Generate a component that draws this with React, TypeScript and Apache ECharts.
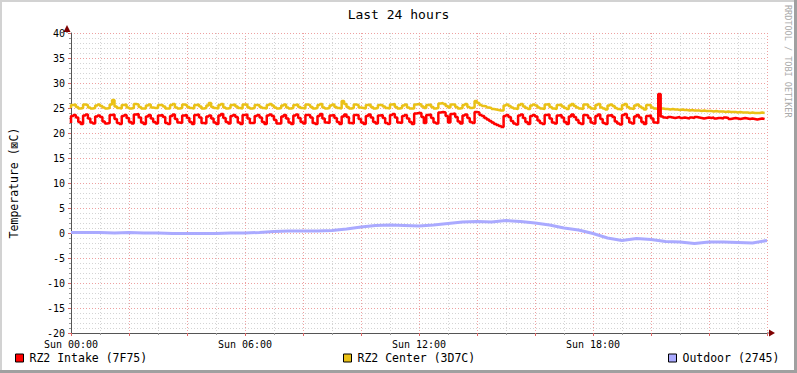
import React, { useEffect, useRef } from "react";
import * as echarts from "echarts";

const STEP_MIN = 5;
const OUTDOOR_STEP_MIN = 30;
const TITLE = "Last 24 hours";
const Y_NAME = "Temperature (\u22A0C)";
const WATERMARK = "RRDTOOL / TOBI OETIKER";
const xTickLabels: Record<number, string> = {
  0: "Sun 00:00",
  360: "Sun 06:00",
  720: "Sun 12:00",
  1080: "Sun 18:00",
};
const seriesNames = ["RZ2 Intake (7F75)", "RZ2 Center (3D7C)", "Outdoor (2745)"];

const intake = [
  22.0, 23.4, 23.6, 23.1, 22.2,
  21.8, 23.5, 23.7, 22.9, 22.1,
  21.9, 23.3, 23.5, 23.2, 22.3, 21.9,
  22.0, 23.6, 23.7, 22.8, 22.0,
  21.8, 23.4, 23.6, 23.0, 22.2,
  21.9, 23.7, 23.8, 23.1, 22.1,
  21.8, 23.3, 23.6, 22.9, 22.2,
  21.9, 23.5, 23.6, 23.2, 22.0,
  21.8, 23.4, 23.7, 22.8, 22.1,
  22.0, 23.5, 23.6, 23.0, 22.2,
  21.8, 23.6, 23.7, 23.1, 22.0,
  21.9, 23.3, 23.5, 22.9, 22.1,
  21.8, 23.5, 23.8, 23.0, 22.2,
  21.9, 23.4, 23.6, 23.2, 22.1,
  21.8, 23.6, 23.7, 22.9, 22.0,
  22.0, 23.4, 23.6, 23.1, 22.2,
  21.8, 23.5, 23.7, 23.4, 22.6, 21.9,
  21.9, 23.3, 23.6, 22.9, 22.1,
  21.8, 23.5, 23.7, 23.0, 22.2,
  21.9, 23.6, 23.6, 23.1, 22.0,
  21.8, 23.4, 23.8, 22.9, 22.1,
  22.0, 23.5, 23.6, 23.0, 22.2,
  21.8, 23.3, 23.7, 23.2, 22.0,
  21.9, 23.6, 23.6, 22.8, 22.1,
  21.8, 23.4, 23.7, 23.1, 22.2,
  21.9, 23.5, 23.6, 23.0, 22.0,
  21.8, 23.6, 23.8, 23.1, 22.1,
  22.0, 23.4, 23.6, 22.9, 22.2,
  21.8, 23.9, 24.0, 24.0, 23.2,
  22.0, 23.6, 23.7, 23.0, 22.1,
  21.9, 24.1, 24.2, 24.1, 23.4,
  22.1, 23.8, 23.9, 23.2, 22.3,
  21.9, 23.5, 23.7, 23.0, 22.2,
  22.0, 24.2, 24.1, 23.6, 23.4,
  23.0, 22.7, 22.4, 22.1, 21.8, 21.6, 21.4, 21.2,
  23.4, 23.6, 23.2, 22.4, 21.9, 21.7,
  23.5, 23.7, 23.0, 22.2, 21.8,
  23.4, 23.6, 23.3, 22.5, 22.0, 21.8,
  23.6, 23.7, 22.9, 22.1, 21.9,
  23.5, 23.6, 23.1, 22.2, 21.8,
  23.3, 23.7, 23.2, 22.6, 22.0, 21.8,
  23.6, 23.5, 23.0, 22.1, 21.9,
  23.4, 23.7, 22.8, 22.0, 21.8,
  23.5, 23.6, 23.2, 22.3, 21.9, 21.7,
  23.6, 23.8, 23.0, 22.1, 21.9,
  23.3, 23.6, 23.1, 22.2, 21.8,
  23.4, 23.5, 22.9, 22.1, 22.0,
  27.8,
  23.3, 23.1, 23.0, 23.2, 23.1, 23.0, 23.1, 23.2, 23.0, 23.1,
  23.0, 22.9, 23.1, 23.0, 23.2, 23.1, 23.0, 22.9, 23.0, 23.1,
  23.0, 23.1, 22.9, 23.0, 23.0, 22.9, 23.1, 23.0, 22.8, 22.9,
  23.0, 22.9, 22.8, 22.9, 23.0, 22.9, 22.8, 22.9, 22.8, 22.7,
  22.8, 22.9, 22.8,
];

const center = [
  25.0, 25.6, 25.7, 25.2, 24.9,
  25.0, 25.7, 25.6, 25.1, 24.9,
  25.0, 25.5, 25.7, 25.4, 25.1, 24.9,
  25.0, 25.7, 26.6, 25.3, 25.0,
  24.9, 25.6, 25.7, 25.1, 24.9,
  25.0, 25.8, 25.7, 25.2, 24.9,
  24.9, 25.5, 25.7, 25.1, 25.0,
  25.0, 25.6, 25.6, 25.3, 24.9,
  24.9, 25.6, 25.8, 25.1, 24.9,
  25.0, 25.7, 25.6, 25.2, 25.0,
  24.9, 25.6, 25.7, 25.3, 24.9,
  25.0, 25.5, 26.0, 25.2, 25.0,
  24.9, 25.6, 25.8, 25.1, 24.9,
  25.0, 25.6, 25.7, 25.3, 25.0,
  24.9, 25.7, 25.7, 25.1, 24.9,
  25.0, 25.6, 25.6, 25.2, 25.0,
  24.9, 25.6, 25.8, 25.5, 25.1, 24.9,
  25.0, 25.5, 25.7, 25.1, 24.9,
  25.0, 25.6, 25.7, 25.2, 25.0,
  24.9, 25.7, 25.6, 25.2, 24.9,
  25.0, 25.6, 25.8, 25.1, 24.9,
  25.0, 25.5, 25.7, 25.2, 25.0,
  24.9, 26.4, 25.8, 25.2, 24.9,
  25.0, 25.7, 25.6, 25.1, 25.0,
  24.9, 25.6, 25.7, 25.2, 24.9,
  25.0, 25.6, 25.6, 25.3, 25.0,
  24.9, 25.7, 25.8, 25.2, 24.9,
  25.0, 25.5, 25.7, 25.1, 24.9,
  24.9, 25.7, 25.8, 25.7, 25.3,
  25.0, 25.6, 25.7, 25.2, 24.9,
  25.0, 25.9, 26.0, 25.8, 25.4,
  25.1, 25.7, 25.7, 25.2, 24.9,
  25.0, 25.6, 25.8, 25.2, 25.0,
  25.1, 26.4, 26.0, 25.6, 25.4,
  25.3, 25.1, 25.0, 24.8, 24.7, 24.6, 24.5, 24.5,
  25.5, 25.7, 25.4, 25.1, 24.9, 24.8,
  25.6, 25.8, 25.3, 25.0, 24.8,
  25.5, 25.7, 25.5, 25.1, 24.9, 24.8,
  25.7, 25.8, 25.2, 24.9, 24.8,
  25.6, 25.7, 25.3, 25.0, 24.8,
  25.5, 25.8, 25.4, 25.1, 24.9, 24.8,
  25.7, 25.7, 25.2, 24.9, 24.8,
  25.6, 25.8, 25.1, 24.9, 24.7,
  25.5, 25.7, 25.4, 25.0, 24.8, 24.7,
  25.6, 25.8, 25.2, 24.9, 24.8,
  25.5, 25.7, 25.3, 25.0, 24.7,
  25.6, 25.6, 25.1, 24.9, 24.8,
  24.9,
  24.9, 24.8, 24.8, 24.7, 24.8, 24.7, 24.7, 24.6, 24.7, 24.6,
  24.6, 24.5, 24.6, 24.5, 24.5, 24.5, 24.4, 24.5, 24.4, 24.4,
  24.4, 24.3, 24.4, 24.3, 24.3, 24.3, 24.2, 24.3, 24.2, 24.2,
  24.2, 24.1, 24.2, 24.1, 24.1, 24.1, 24.0, 24.1, 24.0, 24.0,
  24.0, 24.1, 24.0,
];

const outdoor = [
  0.1, 0.1, 0.1, 0.0, 0.1, 0.0, 0.0, -0.1, -0.1, -0.1,
  -0.1, 0.0, 0.0, 0.1, 0.3, 0.4, 0.4, 0.4, 0.5, 0.8,
  1.2, 1.5, 1.6, 1.5, 1.4, 1.6, 1.9, 2.2, 2.3, 2.2,
  2.5, 2.3, 2.0, 1.6, 1.0, 0.6, -0.1, -1.0, -1.5, -1.1,
  -1.3, -1.7, -1.8, -2.1, -1.8, -1.8, -1.9, -2.0, -1.5,
];

const colors = ["#FF0000", "#EAC117", "#AAAAFF"];
const FONT = "DejaVu Sans Mono";

export default function App() {
  const ref = useRef<HTMLDivElement>(null);
  useEffect(() => {
    const chart = echarts.init(ref.current!, undefined, { renderer: "svg" });
    const intakeData = intake.map((v, i) => [i * STEP_MIN, v]);
    const centerData = center.map((v, i) => [i * STEP_MIN, v]);
    const outdoorData = outdoor.map((v, i) => [i * OUTDOOR_STEP_MIN, v]);
    const legendBase = {
      orient: "horizontal",
      top: 352,
      padding: 0,
      icon: "rect",
      itemWidth: 8,
      itemHeight: 8,
      selectedMode: false,
      itemStyle: { borderColor: "#000", borderWidth: 1 },
      textStyle: { fontFamily: FONT, fontSize: 11.5, color: "#000", padding: [0, 0, 0, 1] },
    };
    chart.setOption({
      animation: false,
      backgroundColor: "#fff",
      title: {
        text: TITLE,
        left: "center",
        top: 3,
        textStyle: { fontFamily: FONT, fontSize: 13, fontWeight: "normal", color: "#000" },
      },
      legend: [
        { ...legendBase, left: 15, data: [seriesNames[0]] },
        { ...legendBase, left: 343, data: [seriesNames[1]] },
        { ...legendBase, left: 668, data: [seriesNames[2]] },
      ],
      grid: { left: 67, right: 30, top: 33, bottom: 40, containLabel: false },
      xAxis: {
        type: "value",
        min: 0,
        max: 1440,
        interval: 120,
        axisLine: { show: true, onZero: false, lineStyle: { color: "#555", width: 1 } },
        axisTick: { show: true, length: 3, lineStyle: { color: "#e06666" } },
        minorTick: { show: true, splitNumber: 2, length: 2, lineStyle: { color: "#999" } },
        splitLine: { show: true, lineStyle: { color: "#eea0a0", type: [1, 2], width: 1 } },
        minorSplitLine: { show: true, lineStyle: { color: "#d4d4d4", type: [1, 2], width: 1 } },
        axisLabel: {
          formatter: (v: number) => xTickLabels[v] ?? "",
          fontFamily: FONT,
          fontSize: 10,
          color: "#000",
          margin: 6,
          showMaxLabel: false,
        },
      },
      yAxis: {
        type: "value",
        min: -20,
        max: 40,
        interval: 5,
        name: Y_NAME,
        nameLocation: "middle",
        nameRotate: 90,
        nameGap: 51,
        nameTextStyle: { fontFamily: FONT, fontSize: 11.5, color: "#000" },
        axisLine: { show: true, lineStyle: { color: "#555", width: 1 } },
        axisTick: { show: true, length: 3, lineStyle: { color: "#e06666" } },
        minorTick: { show: true, splitNumber: 5, length: 2, lineStyle: { color: "#999" } },
        splitLine: { show: true, lineStyle: { color: "#eea0a0", type: [1, 2], width: 1 } },
        minorSplitLine: { show: true, lineStyle: { color: "#d4d4d4", type: [1, 2], width: 1 } },
        axisLabel: { fontFamily: FONT, fontSize: 10, color: "#000", margin: 6 },
      },
      series: [
        {
          name: seriesNames[2],
          type: "line",
          data: outdoorData,
          showSymbol: false,
          symbol: "none",
          color: colors[2],
          lineStyle: { width: 3, color: colors[2] },
          z: 2,
        },
        {
          name: seriesNames[1],
          type: "line",
          data: centerData,
          showSymbol: false,
          symbol: "none",
          step: "start",
          color: colors[1],
          lineStyle: { width: 2.5, color: colors[1] },
          z: 3,
        },
        {
          name: seriesNames[0],
          type: "line",
          data: intakeData,
          showSymbol: false,
          symbol: "none",
          step: "start",
          color: colors[0],
          lineStyle: { width: 2.5, color: colors[0] },
          z: 4,
        },
      ],
      graphic: [
        { type: "rect", shape: { x: 0, y: 0, width: 797, height: 2 }, style: { fill: "#d2d2d2" }, silent: true },
        { type: "rect", shape: { x: 0, y: 0, width: 2, height: 373 }, style: { fill: "#d2d2d2" }, silent: true },
        { type: "rect", shape: { x: 794, y: 0, width: 3, height: 373 }, style: { fill: "#a0a0a0" }, silent: true },
        { type: "rect", shape: { x: 0, y: 370, width: 797, height: 3 }, style: { fill: "#a0a0a0" }, silent: true },
        { type: "line", shape: { x1: 767, y1: 333, x2: 771, y2: 333 }, style: { stroke: "#555", lineWidth: 1 }, silent: true },
        { type: "line", shape: { x1: 67, y1: 33, x2: 67, y2: 29 }, style: { stroke: "#555", lineWidth: 1 }, silent: true },
        { type: "polygon", shape: { points: [[769, 329.5], [775, 333], [769, 336.5]] }, style: { fill: "#7F0000" }, silent: true },
        { type: "polygon", shape: { points: [[63.5, 32], [67, 25], [70.5, 32]] }, style: { fill: "#7F0000" }, silent: true },
        {
          type: "text",
          x: 792,
          y: 5,
          rotation: -Math.PI / 2,
          style: { text: WATERMARK, fontFamily: FONT, fontSize: 8.5, fill: "#aaaaaa", textAlign: "left", textVerticalAlign: "top" },
          silent: true,
        },
      ],
    });
    return () => chart.dispose();
  }, []);
  return (
    <div
      ref={ref}
      style={{ position: "fixed", left: 0, top: 0, width: 797, height: 373, background: "#fff" }}
    />
  );
}
